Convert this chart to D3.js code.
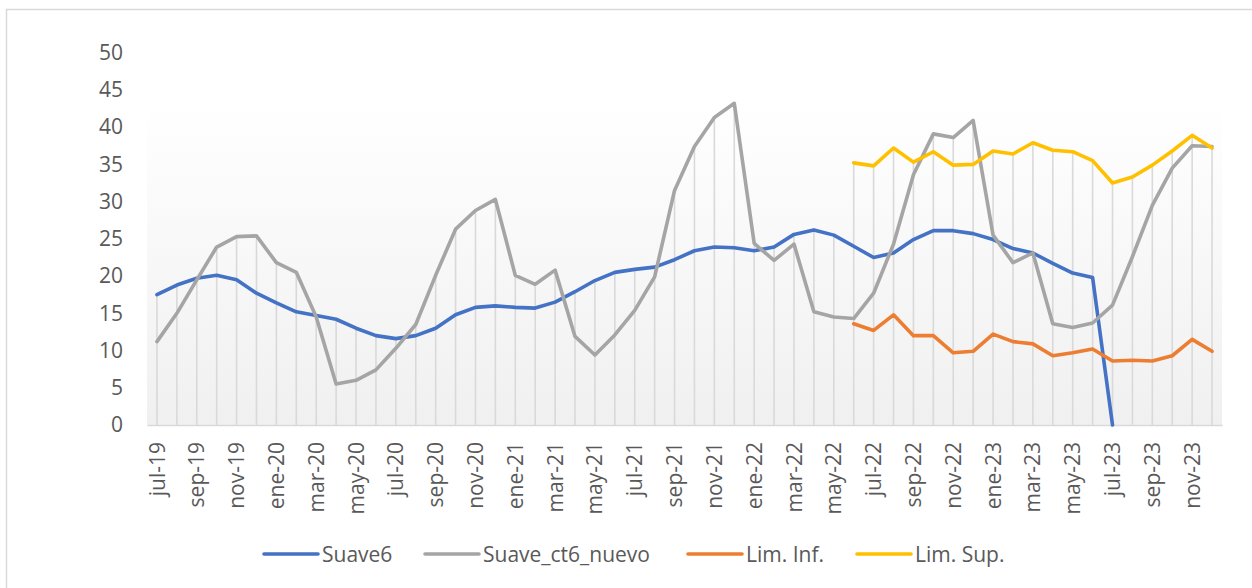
<!DOCTYPE html>
<html>
<head>
<meta charset="utf-8">
<script src="https://cdn.jsdelivr.net/npm/d3@7"></script>
<style>
  html, body { margin: 0; padding: 0; background: #fff; }
  svg { display: block; }
  text { font-family: "Open Sans", "Noto Sans", sans-serif; fill: #595959; }
</style>
</head>
<body>
<svg id="chart" width="1252" height="588"></svg>
<script>
// Monthly categories, jul-2019 .. dic-2023
const months = [
  "jul-19","ago-19","sep-19","oct-19","nov-19","dic-19",
  "ene-20","feb-20","mar-20","abr-20","may-20","jun-20","jul-20","ago-20","sep-20","oct-20","nov-20","dic-20",
  "ene-21","feb-21","mar-21","abr-21","may-21","jun-21","jul-21","ago-21","sep-21","oct-21","nov-21","dic-21",
  "ene-22","feb-22","mar-22","abr-22","may-22","jun-22","jul-22","ago-22","sep-22","oct-22","nov-22","dic-22",
  "ene-23","feb-23","mar-23","abr-23","may-23","jun-23","jul-23","ago-23","sep-23","oct-23","nov-23","dic-23"
];

// Series values (null = no data for that month)
const suave6 = [
  17.5, 18.8, 19.7, 20.1, 19.5, 17.7,
  16.4, 15.2, 14.7, 14.2, 13.0, 12.0, 11.6, 12.0, 13.0, 14.8, 15.8, 16.0,
  15.8, 15.7, 16.5, 17.9, 19.4, 20.5, 20.9, 21.2, 22.2, 23.4, 23.9, 23.8,
  23.4, 23.9, 25.6, 26.2, 25.5, 24.0, 22.5, 23.1, 24.9, 26.1, 26.1, 25.7,
  24.9, 23.7, 23.1, 21.7, 20.4, 19.8, 0, null, null, null, null, null
];

const suaveCt6Nuevo = [
  11.2, 15.0, 19.5, 23.9, 25.3, 25.4,
  21.8, 20.5, 14.5, 5.5, 6.0, 7.4, 10.3, 13.5, 20.1, 26.3, 28.8, 30.3,
  20.1, 18.9, 20.8, 11.9, 9.4, 12.1, 15.4, 19.9, 31.5, 37.4, 41.3, 43.2,
  24.4, 22.1, 24.3, 15.2, 14.5, 14.3, 17.7, 24.3, 33.6, 39.1, 38.6, 40.9,
  25.5, 21.8, 23.1, 13.6, 13.1, 13.7, 16.1, 22.6, 29.5, 34.5, 37.5, 37.4
];

const limInf = [
  null, null, null, null, null, null,
  null, null, null, null, null, null, null, null, null, null, null, null,
  null, null, null, null, null, null, null, null, null, null, null, null,
  null, null, null, null, null, 13.6, 12.7, 14.8, 12.0, 12.0, 9.7, 9.9,
  12.2, 11.2, 10.9, 9.3, 9.7, 10.2, 8.6, 8.7, 8.6, 9.3, 11.5, 9.9
];

const limSup = [
  null, null, null, null, null, null,
  null, null, null, null, null, null, null, null, null, null, null, null,
  null, null, null, null, null, null, null, null, null, null, null, null,
  null, null, null, null, null, 35.2, 34.8, 37.2, 35.3, 36.7, 34.9, 35.0,
  36.8, 36.4, 37.9, 36.9, 36.7, 35.5, 32.5, 33.3, 34.9, 36.8, 38.9, 37.2
];

const seriesNames = ["Suave6", "Suave_ct6_nuevo", "Lim. Inf.", "Lim. Sup."];
const seriesColors = ["#4472C4", "#A5A5A5", "#ED7D31", "#FFC000"];
const yTicks = [0, 5, 10, 15, 20, 25, 30, 35, 40, 45, 50];
const xTickLabels = months.filter((m, i) => i % 2 === 0);

const seriesData = [suave6, suaveCt6Nuevo, limInf, limSup];

const svg = d3.select("#chart");

// outer chart frame
svg.append("rect")
  .attr("x", 6.5).attr("y", 9.5)
  .attr("width", 1300).attr("height", 700)
  .attr("fill", "#fff")
  .attr("stroke", "#d9d9d9").attr("stroke-width", 1.5);

const plot = { left: 147, right: 1222, top: 101, bottom: 425 };

const x = d3.scaleBand().domain(months).range([plot.left, plot.right]);
const cx = m => x(m) + x.bandwidth() / 2;
const y = d3.scaleLinear().domain([0, 50]).range([plot.bottom, 52.7]);

// plot area gradient fill
const defs = svg.append("defs");
const grad = defs.append("linearGradient")
  .attr("id", "plotFill").attr("x1", 0).attr("y1", 0).attr("x2", 0).attr("y2", 1);
grad.append("stop").attr("offset", "0%").attr("stop-color", "#ffffff");
grad.append("stop").attr("offset", "100%").attr("stop-color", "#f0f0f0");

svg.append("rect")
  .attr("x", plot.left).attr("y", plot.top)
  .attr("width", plot.right - plot.left).attr("height", plot.bottom - plot.top)
  .attr("fill", "url(#plotFill)");

// drop lines: from axis up to the highest value in each month
const tops = months.map((m, i) => {
  const vals = seriesData.map(s => s[i]).filter(v => v != null);
  return { m, v: vals.length ? d3.max(vals) : null };
}).filter(d => d.v != null);

svg.append("g").selectAll("line").data(tops).join("line")
  .attr("x1", d => cx(d.m)).attr("x2", d => cx(d.m))
  .attr("y1", y(0)).attr("y2", d => y(d.v))
  .attr("stroke", "#d9d9d9").attr("stroke-width", 1.6);

// category axis
const xAxis = svg.append("g")
  .attr("transform", `translate(0,${y(0)})`)
  .call(d3.axisBottom(x).tickValues(xTickLabels).tickSize(0).tickPadding(0));
xAxis.select(".domain").attr("stroke", "#d9d9d9").attr("stroke-width", 1.5);
xAxis.selectAll("text")
  .attr("transform", "rotate(-90)")
  .attr("text-anchor", "end")
  .attr("x", -17).attr("y", 0).attr("dy", "0.36em")
  .style("font-size", "21px")
  .style("font-family", "\"Open Sans\", sans-serif")
  .attr("fill", "#595959");

// value axis
const yAxis = svg.append("g")
  .attr("transform", `translate(${plot.left},0)`)
  .call(d3.axisLeft(y).tickValues(yTicks).tickSize(0).tickPadding(24));
yAxis.select(".domain").remove();
yAxis.selectAll("text")
  .style("font-size", "21px")
  .style("font-family", "\"Open Sans\", sans-serif")
  .attr("fill", "#595959");

// series lines
const line = d3.line()
  .defined(d => d.v != null)
  .x(d => cx(d.m))
  .y(d => y(d.v));

seriesData.forEach((s, k) => {
  svg.append("path")
    .datum(s.map((v, i) => ({ m: months[i], v })))
    .attr("fill", "none")
    .attr("stroke", seriesColors[k])
    .attr("stroke-width", 3.6)
    .attr("stroke-linejoin", "round")
    .attr("stroke-linecap", "round")
    .attr("d", line);
});

// legend
const legendX = [264, 425, 688, 857];
const legend = svg.append("g").attr("transform", "translate(0,554)");
seriesNames.forEach((name, k) => {
  const g = legend.append("g").attr("transform", `translate(${legendX[k]},0)`);
  g.append("line")
    .attr("x1", 0).attr("x2", 54).attr("y1", 0).attr("y2", 0)
    .attr("stroke", seriesColors[k]).attr("stroke-width", 3.6)
    .attr("stroke-linecap", "round");
  g.append("text")
    .attr("x", 58).attr("y", 0).attr("dy", "0.36em")
    .style("font-size", "21px")
    .attr("fill", "#595959")
    .text(name);
});
</script>
</body>
</html>
